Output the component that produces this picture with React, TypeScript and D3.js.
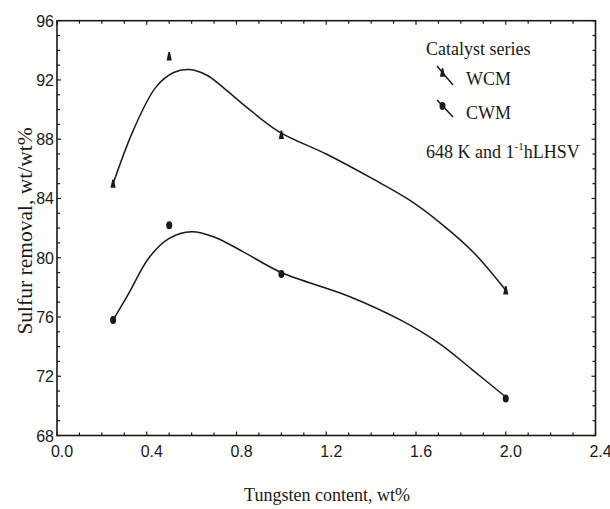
import React from "react";
import * as d3 from "d3";

const tungsten = [0.25, 0.5, 1.0, 2.0];
const wcmValues = [85.0, 93.6, 88.3, 77.8];
const cwmValues = [75.8, 82.2, 78.9, 70.5];

const wcmFitX = [0.25, 0.34, 0.44, 0.52, 0.59, 0.67, 0.74, 0.85, 0.99, 1.2, 1.41, 1.57, 1.72, 1.86, 2.0];
const wcmFitY = [85.0, 88.6, 91.5, 92.5, 92.7, 92.3, 91.5, 90.1, 88.5, 87.0, 85.3, 83.9, 82.2, 80.3, 77.8];
const cwmFitX = [0.25, 0.32, 0.41, 0.5, 0.6, 0.7, 0.83, 1.0, 1.3, 1.53, 1.7, 1.85, 2.0];
const cwmFitY = [75.8, 77.6, 80.0, 81.3, 81.75, 81.4, 80.4, 79.0, 77.4, 75.8, 74.25, 72.45, 70.6];

const xTickLabels = ["0.0", "0.4", "0.8", "1.2", "1.6", "2.0", "2.4"];
const yTickLabels = ["68", "72", "76", "80", "84", "88", "92", "96"];

const W = 610;
const H = 509;
const M = { left: 57, right: 595.5, top: 20.7, bottom: 435.5 };

const INK = "#1a1a1a";
const SERIF = "'Liberation Serif', 'Times New Roman', serif";
const SANS = "'Liberation Sans Narrow', 'Liberation Sans', Arial, sans-serif";

export default function App() {
  const x = d3.scaleLinear().domain([0, 2.4]).range([M.left, M.right]);
  const y = d3.scaleLinear().domain([68, 96]).range([M.bottom, M.top]);

  const line = d3
    .line<[number, number]>()
    .x((d) => x(d[0]))
    .y((d) => y(d[1]))
    .curve(d3.curveCatmullRom.alpha(0.5));

  const wcmFit: [number, number][] = wcmFitX.map((v, i) => [v, wcmFitY[i]]);
  const cwmFit: [number, number][] = cwmFitX.map((v, i) => [v, cwmFitY[i]]);

  const xMinor = d3.range(0, 2.4001, 0.1);
  const yMinor = d3.range(68, 96.001, 1);

  const tri = (cx: number, cy: number) =>
    `M${cx - 2.6},${cy + 4.2} L${cx - 0.8},${cy - 4.2} L${cx + 0.8},${cy - 4.2} L${cx + 2.6},${cy + 4.2} Z`;

  return (
    <svg
      width={W}
      height={H}
      style={{ position: "absolute", left: 0, top: 0, background: "#fefefc" }}
    >
      <rect x={0} y={0} width={W} height={H} fill="#fefefc" />

      {/* ticks, inward on all four sides */}
      {xMinor.map((t, i) => {
        const major = Math.abs(t / 0.4 - Math.round(t / 0.4)) < 1e-6;
        const len = major ? 4 : 3;
        return (
          <g key={"xt" + i} stroke={INK} strokeWidth={1.2}>
            <line x1={x(t)} x2={x(t)} y1={M.bottom} y2={M.bottom - len} />
            <line x1={x(t)} x2={x(t)} y1={M.top} y2={M.top + len} />
          </g>
        );
      })}
      {yMinor.map((t, i) => {
        const major = (t - 68) % 4 === 0;
        const len = major ? 4 : 3;
        return (
          <g key={"yt" + i} stroke={INK} strokeWidth={1.2}>
            <line x1={M.left} x2={M.left + len} y1={y(t)} y2={y(t)} />
            <line x1={M.right} x2={M.right - len} y1={y(t)} y2={y(t)} />
          </g>
        );
      })}

      {/* frame */}
      <rect
        x={M.left}
        y={M.top}
        width={M.right - M.left}
        height={M.bottom - M.top}
        fill="none"
        stroke={INK}
        strokeWidth={1.6}
      />

      {/* tick labels */}
      {xTickLabels.map((s) => (
        <text
          key={"xl" + s}
          x={x(+s) + 5}
          y={457}
          textAnchor="middle"
          fontFamily={SANS}
          fontSize={16}
          fill={INK}
        >
          {s}
        </text>
      ))}
      {yTickLabels.map((s) => (
        <text
          key={"yl" + s}
          x={M.left - 3}
          y={y(+s) + 6}
          textAnchor="end"
          fontFamily={SANS}
          fontSize={16}
          fill={INK}
        >
          {s}
        </text>
      ))}

      {/* axis titles */}
      <text
        x={327}
        y={501}
        textAnchor="middle"
        fontFamily={SERIF}
        fontSize={18}
        fill={INK}
      >
        Tungsten content, wt%
      </text>
      <text
        transform={`translate(32,231) rotate(-90)`}
        textAnchor="middle"
        fontFamily={SERIF}
        fontSize={21.5}
        fill={INK}
      >
        Sulfur removal, wt/wt%
      </text>

      {/* fitted curves */}
      <path d={line(wcmFit) || ""} fill="none" stroke={INK} strokeWidth={1.5} />
      <path d={line(cwmFit) || ""} fill="none" stroke={INK} strokeWidth={1.5} />

      {/* markers */}
      {tungsten.map((t, i) => (
        <path key={"w" + i} d={tri(x(t), y(wcmValues[i]))} fill={INK} />
      ))}
      {tungsten.map((t, i) => (
        <ellipse key={"c" + i} cx={x(t)} cy={y(cwmValues[i])} rx={3} ry={4} fill={INK} />
      ))}

      {/* legend */}
      <text x={426} y={55} fontFamily={SERIF} fontSize={18} fill={INK}>
        Catalyst series
      </text>
      <line x1={437} y1={66} x2={453} y2={85} stroke={INK} strokeWidth={1.5} />
      <path d={tri(442.5, 72.5)} fill={INK} />
      <text x={466} y={85} fontFamily={SERIF} fontSize={18} fill={INK}>
        WCM
      </text>
      <line x1={437} y1={100} x2={453} y2={117} stroke={INK} strokeWidth={1.5} />
      <ellipse cx={442.5} cy={106} rx={3} ry={4} fill={INK} />
      <text x={466} y={119} fontFamily={SERIF} fontSize={18} fill={INK}>
        CWM
      </text>
      <text x={426} y={158} fontFamily={SERIF} fontSize={18} fill={INK}>
        648 K and 1
        <tspan dy={-8} fontSize={11}>-1</tspan>
        <tspan dy={8}>hLHSV</tspan>
      </text>
    </svg>
  );
}
